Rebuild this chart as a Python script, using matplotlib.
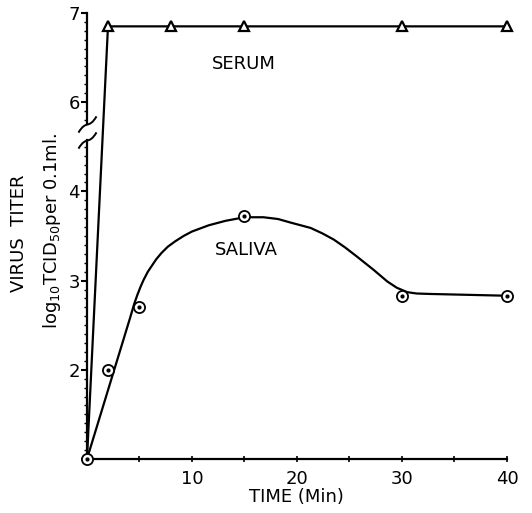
import numpy as np
import matplotlib
matplotlib.use("Agg")
import matplotlib.pyplot as plt
from matplotlib.path import Path

# Serum (triangles) - log10 TCID50 per 0.1 ml
serum_t = [0, 2, 8, 15, 30, 40]
serum_v = [1.0, 6.85, 6.85, 6.85, 6.85, 6.85]

# Saliva (circles)
saliva_t = [0, 2, 5, 15, 30, 40]
saliva_v = [1.0, 2.0, 2.7, 3.72, 2.83, 2.83]

# hand drawn saliva curve
curve_t = [0, 4.1, 4.5, 4.8, 5.1, 5.4, 5.8, 6.2, 6.6, 7.1, 7.7, 8.4, 9.2, 10.0, 11.6,
           13.2, 15.0, 16.8, 18.2, 19.4, 21.3, 22.4, 23.5, 24.6, 25.7, 27.3, 28.6,
           29.5, 30.5, 31.4, 32.7, 40.0]
curve_v = [1.0, 2.58, 2.74, 2.84, 2.93, 3.01, 3.10, 3.17, 3.24, 3.31, 3.38, 3.44, 3.50,
           3.55, 3.62, 3.67, 3.71, 3.71, 3.69, 3.65, 3.59, 3.53, 3.46, 3.37, 3.27, 3.12,
           2.99, 2.92, 2.87, 2.855, 2.85, 2.83]

x_major = [0, 10, 20, 30, 40]
x_labels = ['', '10', '20', '30', '40']
y_major = [1, 2, 3, 4, 6, 7]
y_labels = ['', '2', '3', '4', '6', '7']


# broken y axis: 4.65 .. 5.75 squeezed into a tiny gap
def fwd(y):
    y = np.asarray(y, dtype=float)
    return np.where(y <= 4.65, y,
                    np.where(y >= 5.75, y - 1.0, 4.65 + (y - 4.65) * (0.1 / 1.1)))


def inv(v):
    v = np.asarray(v, dtype=float)
    return np.where(v <= 4.65, v,
                    np.where(v >= 4.75, v + 1.0, 4.65 + (v - 4.65) * 11.0))


plt.rcParams['font.family'] = 'DejaVu Sans'
plt.rcParams['mathtext.fontset'] = 'dejavusans'

fig = plt.figure(figsize=(5.32, 5.13), dpi=100)
ax = fig.add_axes([0.1635, 0.1053, 0.7895, 0.8694])
ax.set_yscale('function', functions=(fwd, inv))
ax.set_xlim(0, 40)
ax.set_ylim(1, 7)

lw = 1.6
ax.plot(serum_t, serum_v, color='black', lw=lw, clip_on=False)
ax.plot(serum_t[1:], serum_v[1:], linestyle='none', marker='^', ms=7,
        mfc='white', mec='black', mew=1.6, clip_on=False)

ax.plot(curve_t, curve_v, color='black', lw=lw, clip_on=False,
        solid_joinstyle='round', solid_capstyle='round')
ax.plot(saliva_t, saliva_v, linestyle='none', marker='o', ms=8,
        mfc='white', mec='black', mew=1.3, clip_on=False, zorder=3)
ax.plot(saliva_t, saliva_v, linestyle='none', marker='o', ms=2,
        color='black', clip_on=False, zorder=4)

# axis lines with the break
for s in ['top', 'right', 'left']:
    ax.spines[s].set_visible(False)
ax.spines['bottom'].set_linewidth(lw)
ax.plot([0, 0], [1, 4.58], color='black', lw=lw, clip_on=False)
ax.plot([0, 0], [5.75, 7], color='black', lw=lw, clip_on=False)
squiggle = Path([(-1, -0.9), (-0.1, 0.6), (0.1, -0.6), (1, 0.9)],
                [Path.MOVETO, Path.CURVE4, Path.CURVE4, Path.CURVE4])
ax.plot([0, 0], [4.58, 5.75], linestyle='none', marker=squiggle, ms=13,
        mfc='none', mec='black', mew=1.4, clip_on=False)

ax.set_xticks(x_major, x_labels)
ax.set_xticks([5, 15, 25, 35], minor=True)
ax.set_yticks(y_major, y_labels)
minor_y = [round(v, 1) for v in list(np.arange(1.1, 4.55, 0.1)) + list(np.arange(5.8, 6.95, 0.1))
           if abs(v - round(v)) > 0.01]
ax.set_yticks(minor_y, minor=True)
ax.tick_params(axis='y', which='major', direction='out', length=4, width=1.5,
               labelsize=13, pad=1)
ax.tick_params(axis='y', which='minor', direction='out', length=2.5, width=1)
ax.tick_params(axis='x', which='both', direction='inout', length=4, width=1.2,
               labelsize=13, pad=6)

ax.text(14.9, 6.43, 'SERUM', ha='center', va='center', fontsize=13)
ax.text(15.2, 3.34, 'SALIVA', ha='center', va='center', fontsize=13)

fig.text(0.557, 0.031, 'TIME (Min)', ha='center', va='center', fontsize=13)
fig.text(0.036, 0.546, 'VIRUS  TITER', rotation=90, ha='center', va='center', fontsize=13)
fig.text(0.098, 0.55, r'log$_{\mathregular{10}}$TCID$_{\mathregular{50}}$per 0.1ml.',
         rotation=90, ha='center', va='center', fontsize=13)

fig.savefig('out.png', dpi=100)
